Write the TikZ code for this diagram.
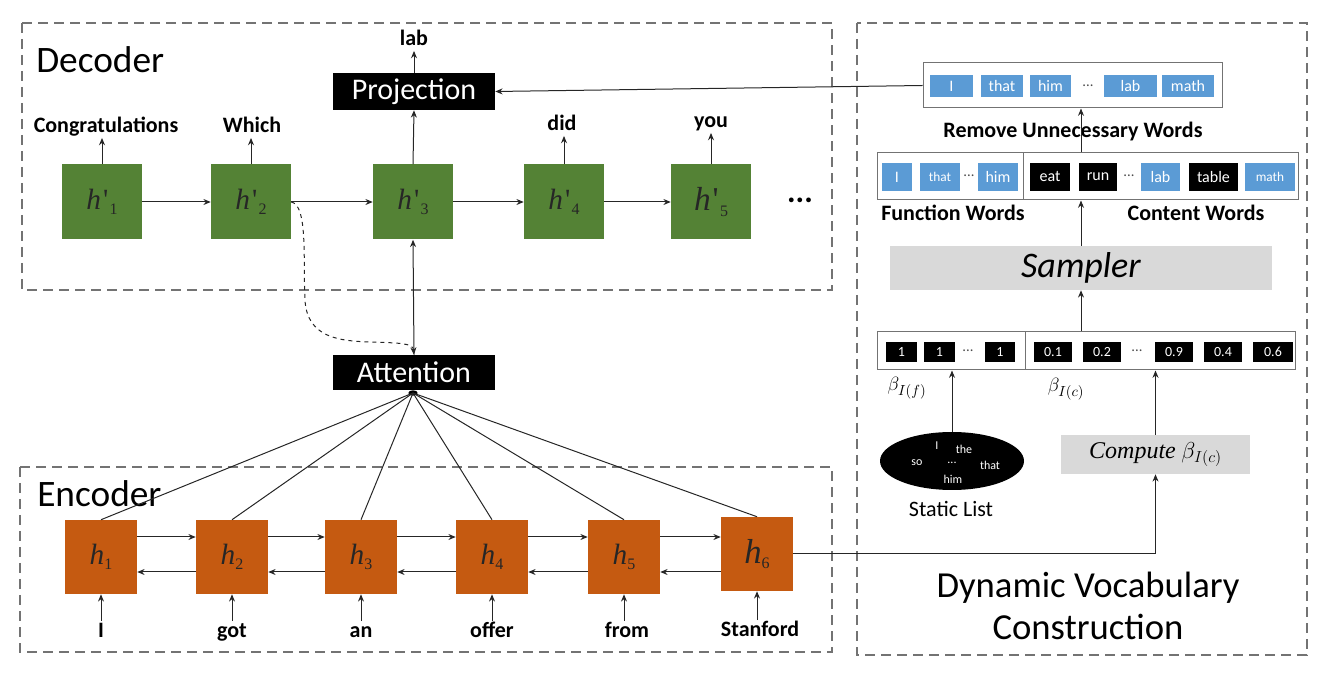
\documentclass[tikz,border=0pt]{standalone}
\usepackage{fontspec}
\setmainfont{Carlito}
\newfontfamily\tms{Liberation Serif}
\usetikzlibrary{arrows.meta,shapes.geometric,calc}
\definecolor{dgreen}{HTML}{548235}
\definecolor{dorange}{HTML}{C55A11}
\definecolor{lblue}{HTML}{5B9BD5}
\definecolor{lgray}{HTML}{D9D9D9}
\definecolor{ink}{HTML}{262626}
\newcommand{\myfs}[1]{\fontsize{#1}{#1}\selectfont}
\newcommand{\hcell}[2]{{\tms\itshape h#1}\raisebox{-4pt}{\myfs{12}\tms #2}}
\newcommand{\pr}{\kern1.5pt{\upshape\textquotesingle}\kern1pt}
\tikzset{
  frame/.style={draw=black!55, dash pattern=on 7.5pt off 4.5pt, line width=0.8pt},
  arr/.style={draw=ink, line width=0.75pt, -{Stealth[length=5.5pt,width=4.5pt]}},
  ln/.style={draw=ink, line width=0.75pt},
  dcell/.style={fill=dgreen, minimum width=60pt, minimum height=56.25pt, inner sep=0, font=\myfs{22}, text=black!85},
  ecell/.style={fill=dorange, minimum width=54pt, minimum height=55.5pt, inner sep=0, font=\myfs{22}, text=black!85},
  blk/.style={fill=black, text=white, inner sep=0, font=\myfs{22.5}, minimum width=121.5pt},
  lbl/.style={font=\myfs{16.5}\bfseries, inner sep=1pt, text height=11pt, text depth=3pt},
  big/.style={font=\myfs{28}, inner sep=0},
  wbox/.style={draw=black!55, line width=0.75pt, fill=white, inner sep=0},
  bl/.style={fill=lblue, text=white, inner sep=0, font=\myfs{12}},
  bk/.style={fill=black, text=white, inner sep=0, font=\myfs{12}},
  dts/.style={inner sep=0, font=\myfs{11}, text=black!70},
  gbox/.style={fill=lgray, inner sep=0},
}
\begin{document}
\begin{tikzpicture}[x=0.75pt,y=-0.75pt]
\useasboundingbox (0,0) rectangle (1332,680);
% frames
\draw[frame] (22,23) rectangle (832,290);
\draw[frame] (20,467) rectangle (832,652);
\draw[frame] (857,23) rectangle (1307,655);
\node[big, anchor=west] (dectitle) at (36,60) {Decoder};
\node[big, anchor=west] (enctitle) at (37,494) {Encoder};

% decoder
\node[blk, minimum height=27.75pt] (proj) at (414,91.5) {Projection};
\node[lbl] (lab) at (414,40) {lab};
\node[dcell] (d1) at (102,202) {\hcell{\pr}{1}};
\node[dcell] (d2) at (251,202) {\hcell{\pr}{2}};
\node[dcell] (d3) at (413,202) {\hcell{\pr}{3}};
\node[dcell] (d4) at (564,202) {\hcell{\pr}{4}};
\node[dcell, font=\myfs{25}] (d5) at (711,202) {\hcell{\pr}{5}};
\node[inner sep=0, font=\myfs{24}\bfseries] (ddots) at (800,200) {...};
\node[lbl] (o1) at (106,127) {Congratulations};
\node[lbl] (o2) at (252,127) {Which};
\node[lbl] (o4) at (562,125) {did};
\node[lbl] (o5) at (711,122) {you};
\draw[arr] (d1.north) -- (d1.north |- o1.south);
\draw[arr] (d2.north) -- (d2.north |- o2.south);
\draw[arr] (d4.north) -- (d4.north |- o4.south);
\draw[arr] (d5.north) -- (d5.north |- o5.south);
\draw[arr] (d1) -- (d2);
\draw[arr] (d2) -- (d3);
\draw[arr] (d3) -- (d4);
\draw[arr] (d4) -- (d5);
\draw[arr] (d3.north) -- (proj.south);
\draw[arr] (proj.north) -- (lab.south);

% attention
\node[blk, minimum height=26.25pt] (att) at (414,372.5) {Attention};
\node[ellipse, fill=black, inner sep=0, minimum width=7pt, minimum height=4pt] (dot) at (413,393) {};
\draw[arr] (att.north) -- (d3.south);
\draw[arr, dashed] (d2.east) .. controls (308,205) and (303,260) .. (305,300)
   .. controls (307,338) and (340,341) .. (370,342)
   .. controls (400,343) and (413,343) .. (att.north);

% encoder
\node[ecell] (e1) at (101,557) {\hcell{}{1}};
\node[ecell] (e2) at (232,557) {\hcell{}{2}};
\node[ecell] (e3) at (361,557) {\hcell{}{3}};
\node[ecell] (e4) at (492,557) {\hcell{}{4}};
\node[ecell] (e5) at (624,557) {\hcell{}{5}};
\node[ecell, font=\myfs{26}] (e6) at (757,554) {\hcell{}{6}};
\foreach \a/\b in {e1/e2,e2/e3,e3/e4,e4/e5,e5/e6}{
  \draw[arr] ([yshift=15pt]\a.east) -- ([yshift=15pt]\a.east -| \b.west);
  \draw[arr] ([yshift=-11.25pt]\a.east -| \b.west) -- ([yshift=-11.25pt]\a.east);
}
\node[lbl] (i1) at (101,632) {I};
\node[lbl] (i2) at (232,632) {got};
\node[lbl] (i3) at (361,632) {an};
\node[lbl] (i4) at (492,632) {offer};
\node[lbl] (i5) at (627,632) {from};
\node[lbl] (i6) at (760,631) {Stanford};
\foreach \c/\l in {e1/i1,e2/i2,e3/i3,e4/i4,e5/i5,e6/i6}{
  \draw[arr] (\c.south |- \l.north) -- (\c.south);
}
\foreach \c in {e1,e2,e3,e4,e5,e6}{
  \draw[ln] (dot.center) -- (\c.north);
}

% dynamic vocabulary
\node[wbox, minimum width=224.25pt, minimum height=33.75pt] (vocab) at (1072.5,85.5) {};
\node[bl, minimum width=32.25pt, minimum height=16.5pt] (v1) at (951.5,86) {I};
\node[bl, minimum width=31.5pt, minimum height=16.5pt] (v2) at (1002,86) {that};
\node[bl, minimum width=30.75pt, minimum height=16.5pt] (v3) at (1050.5,86) {him};
\node[dts] (v4) at (1088,86) {...};
\node[bl, minimum width=39.75pt, minimum height=16.5pt] (v5) at (1130.5,86) {lab};
\node[bl, minimum width=39pt, minimum height=16.5pt] (v6) at (1188,86) {math};
\draw[arr] (vocab.west) -- (proj.east);
\node[lbl] (remove) at (1073,132) {Remove Unnecessary Words};

\node[wbox, minimum width=109.5pt, minimum height=35.25pt] (func) at (950,176.5) {};
\node[wbox, minimum width=206.25pt, minimum height=35.25pt] (cont) at (1160.5,176.5) {};
\node[bl, minimum width=22.5pt, minimum height=21pt] (f1) at (897,177) {I};
\node[bl, minimum width=30pt, minimum height=21pt, font=\myfs{10}] (f2) at (940,177) {that};
\node[dts] (f3) at (969,176) {...};
\node[bl, minimum width=30pt, minimum height=21pt] (f4) at (998,177) {him};
\node[bk, minimum width=30pt, minimum height=21pt] (c1) at (1050,177) {eat};
\node[bk, minimum width=28.5pt, minimum height=21pt] (c2) at (1098,177) {run};
\node[dts] (c3) at (1129,176) {...};
\node[bl, minimum width=29.25pt, minimum height=21pt] (c4) at (1160.5,177) {lab};
\node[bk, minimum width=36.75pt, minimum height=21pt] (c5) at (1213.5,177) {table};
\node[bl, minimum width=37.5pt, minimum height=21pt, font=\myfs{10}] (c6) at (1270,177) {math};
\node[lbl] (funclbl) at (953,215) {Function Words};
\node[lbl] (contlbl) at (1196,215) {Content Words};

\node[gbox, minimum width=286.5pt, minimum height=33pt, font=\myfs{27}\itshape] (sampler) at (1081,268) {Sampler};
\draw[arr] (sampler.north) -- (sampler.north |- func.south);
\draw[arr] (sampler.north |- func.north) -- (sampler.north |- vocab.south);

\node[wbox, minimum width=111pt, minimum height=28.5pt] (fbeta) at (951,351) {};
\node[wbox, minimum width=202.5pt, minimum height=28.5pt] (cbeta) at (1160,351) {};
\node[bk, minimum width=23.25pt, minimum height=15pt, font=\myfs{10.5}] (b1) at (901.5,352) {1};
\node[bk, minimum width=23.25pt, minimum height=15pt, font=\myfs{10.5}] (b2) at (939.5,352) {1};
\node[dts] (b3) at (968,351) {...};
\node[bk, minimum width=22.5pt, minimum height=15pt, font=\myfs{10.5}] (b4) at (1000,352) {1};
\node[bk, minimum width=28.5pt, minimum height=15pt, font=\myfs{10.5}] (b5) at (1053,352) {0.1};
\node[bk, minimum width=28.5pt, minimum height=15pt, font=\myfs{10.5}] (b6) at (1102,352) {0.2};
\node[dts] (b7) at (1137,351) {...};
\node[bk, minimum width=28.5pt, minimum height=15pt, font=\myfs{10.5}] (b8) at (1174,352) {0.9};
\node[bk, minimum width=28.5pt, minimum height=15pt, font=\myfs{10.5}] (b9) at (1223,352) {0.4};
\node[bk, minimum width=30pt, minimum height=15pt, font=\myfs{10.5}] (b10) at (1273,352) {0.6};
\draw[arr] (sampler.south |- fbeta.north) -- (sampler.south);
\node[inner sep=0, font=\myfs{15}] (betaf) at (907,388) {$\beta_{I(f)}$};
\node[inner sep=0, font=\myfs{15}] (betac) at (1066,389) {$\beta_{I(c)}$};

\node[ellipse, fill=black, minimum width=108pt, minimum height=43.5pt, inner sep=0] (static) at (952,461) {};
\node[inner sep=0, text=white, font=\myfs{9}] (s1) at (937,446) {I};
\node[inner sep=0, text=white, font=\myfs{9}] (s2) at (964,449) {the};
\node[inner sep=0, text=white, font=\myfs{9}] (s3) at (917,463) {so};
\node[inner sep=0, text=white, font=\myfs{9}] (s4) at (952,463) {...};
\node[inner sep=0, text=white, font=\myfs{9}] (s5) at (990,465) {that};
\node[inner sep=0, text=white, font=\myfs{9}] (s6) at (953,479) {him};
\node[inner sep=0, font=\myfs{16.5}] (staticlbl) at (951,509) {Static List};
\draw[arr] (static.north) -- (static.north |- fbeta.south);

\node[gbox, minimum width=141.75pt, minimum height=29.25pt, font=\myfs{18}] (comp) at (1155.5,454.5) {{\tms\itshape Compute} $\beta_{I(c)}$};
\draw[arr] (comp.north) -- (comp.north |- cbeta.south);
\draw[arr] (e6.east) -| (comp.south);

\node[align=center, inner sep=0, font=\fontsize{27.5}{31.5}\selectfont] (dvc) at (1088,606) {Dynamic Vocabulary\\Construction};
\end{tikzpicture}
\end{document}
